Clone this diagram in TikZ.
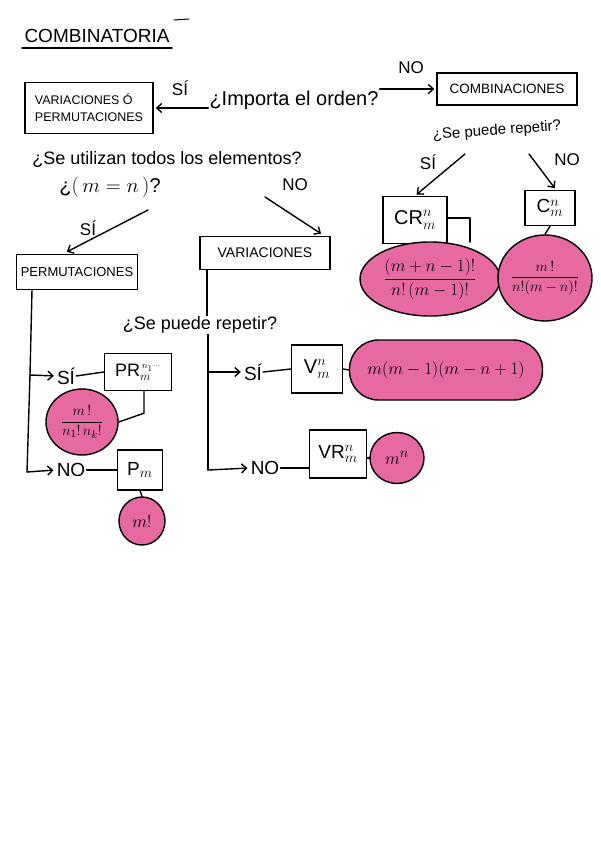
\documentclass[tikz,border=0pt]{standalone}
\usepackage{amsmath}
\usepackage{fontspec}
\setmainfont{Liberation Sans}
\usetikzlibrary{arrows.meta,shapes.geometric,calc}
\definecolor{pinkfill}{RGB}{230,105,162}
\tikzset{
  ln/.style={line width=1.4pt, black, line cap=round, line join=round},
  arr/.style={ln, -{Straight Barb[length=5pt,width=9pt]}, shorten >=2pt},
  boxn/.style={draw, line width=1.4pt, rectangle, inner sep=2pt, align=left},
  blob/.style={draw, line width=1.4pt, ellipse, fill=pinkfill, inner sep=0pt},
  hand/.style={inner sep=1pt},
}
\newcommand{\sym}[3]{\mathrm{#1}\mathop{}_{\raisebox{-1pt}{$\scriptstyle #2$}}^{\raisebox{1pt}{$\scriptstyle #3$}}}
\begin{document}
\begin{tikzpicture}[x=1pt,y=-1pt]
\useasboundingbox (0,0) rectangle (600,848);
\fill[white] (0,0) rectangle (600,848);

% title
\node[hand, font=\fontsize{19}{21}\selectfont] (title) at (97,36) {COMBINATORIA};
\draw[ln] (22,48) -- (172,48);
\draw[ln, line width=1pt] (174,20) -- (189,19);

% top row
\node[boxn, minimum width=128pt, minimum height=51pt, font=\fontsize{12.5}{17}\selectfont] (varperm) at (89,108) {VARIACIONES Ó\\PERMUTACIONES};
\node[hand, font=\fontsize{20}{22}\selectfont] (importa) at (294,100) {¿Importa el orden?};
\node[boxn, minimum width=140pt, minimum height=32pt, font=\fontsize{13.5}{16}\selectfont] (comb) at (507,89) {COMBINACIONES};
\draw[arr] (importa.west |- varperm.east) -- (varperm.east);
\draw[arr] (importa.east |- comb.west) -- (comb.west);
\node[hand, font=\fontsize{17}{19}\selectfont] (si1) at (180,88) {SÍ};
\node[hand, font=\fontsize{17}{19}\selectfont] (no1) at (411,68) {NO};

% combinaciones branch
\node[hand, font=\fontsize{15}{17}\selectfont, rotate=4] (rep1) at (497,131) {¿Se puede repetir?};
\node[hand, font=\fontsize{17}{19}\selectfont] (si3) at (428,162) {SÍ};
\node[hand, font=\fontsize{17}{19}\selectfont] (no3) at (567,160) {NO};
\node[boxn, minimum width=64pt, minimum height=47pt, align=center, font=\fontsize{20}{22}\selectfont] (cr) at (415,220) {$\mathrm{CR}_m^n$};
\draw[ln] (447,218) -- (470,218) -- (470,242);
\node[boxn, minimum width=50pt, minimum height=35pt, align=center, font=\fontsize{19}{21}\selectfont] (cb) at (550,208) {$\mathrm{C}_m^n$};
\coordinate (si3s) at (465,154);
\coordinate (no3s) at (529,154);
\draw[arr] (si3s) -- (cr.north);
\draw[arr] (no3s) -- ($(cb.north)+(6,0)$);
\node[blob, inner sep=-10pt, minimum width=140pt, minimum height=74pt, font=\fontsize{18}{20}\selectfont] (crf) at (430,279) {$\dfrac{(m+n-1)!}{n!\,(m-1)!}$};
\node[blob, inner sep=-12pt, minimum width=94pt, minimum height=86pt, font=\fontsize{15}{17}\selectfont] (cf) at (545,278) {$\dfrac{m\,!}{n!(m-n)!}$};
\draw[ln] (cb.south) -- (cf.north);

% utilizan
\node[hand, font=\fontsize{18}{20}\selectfont] (util) at (167,160) {¿Se utilizan todos los elementos?};
\node[hand, font=\fontsize{20}{22}\selectfont] (mn) at (110,187) {¿$(\,m=n\,)$?};
\node[boxn, minimum width=121pt, minimum height=35pt, font=\fontsize{13}{15}\selectfont, align=center] (perm) at (77,272) {PERMUTACIONES};
\node[boxn, minimum width=130pt, minimum height=33pt, font=\fontsize{14}{16}\selectfont, align=center] (var) at (265,253) {VARIACIONES};
\coordinate (sis) at (148,210);
\coordinate (nos) at (265,197);
\draw[arr] (sis) -- ($(perm.north)+(-12,-1)$);
\draw[arr] (nos) -- ($(var.north east)+(-8,-1)$);
\node[hand, font=\fontsize{17}{19}\selectfont] (si2l) at (88,228) {SÍ};
\node[hand, font=\fontsize{17}{19}\selectfont] (no2l) at (295,185) {NO};

% permutaciones branch
\coordinate (pt) at (32,290);
\coordinate (pm1) at (30,375);
\coordinate (pb) at (27,472);
\draw[ln] (pt) -- (pm1) -- (pb);
\node[hand, font=\fontsize{19}{21}\selectfont] (psi) at (66,376) {SÍ};
\node[hand, font=\fontsize{19}{21}\selectfont] (pno) at (71,470) {NO};
\draw[arr] (pm1) -- (psi.west);
\draw[arr] (pb) -- (pno.west);
\node[boxn, minimum width=67pt, minimum height=37pt, inner sep=1pt, align=center, font=\fontsize{18}{20}\selectfont] (pr) at (138,372) {$\mathrm{PR}_{m}^{\,\scriptscriptstyle n_1\cdots}$};
\draw[ln] (psi.east) -- (pr.west);
\node[blob, inner sep=-4pt, minimum width=72pt, minimum height=66pt, font=\fontsize{15}{17}\selectfont] (prf) at (82,422) {$\dfrac{m\,!}{n_1!\,n_k!}$};
\draw[ln] ($(pr.south)+(6,0)$) -- ++(0,22) -- (prf.east);
\node[boxn, minimum width=45pt, minimum height=40pt, align=center, font=\fontsize{19}{21}\selectfont] (pmb) at (140,470) {$\mathrm{P}_m$};
\draw[ln] (pno.east) -- (pmb.west);
\node[blob, minimum width=46pt, minimum height=48pt, font=\fontsize{17}{19}\selectfont] (pmf) at (142,521) {$m!$};
\draw[ln] (pmb.south) -- (pmf.north);

% variaciones branch
\node[hand, font=\fontsize{18}{20}\selectfont] (rep2) at (200,325) {¿Se puede repetir?};
\coordinate (vt) at (207,270);
\draw[ln] (vt) -- (rep2.north -| vt);
\coordinate (vm) at (208,372);
\coordinate (vb) at (208,470);
\draw[ln] (rep2.south -| vm) -- (vm) -- (vb);
\node[hand, font=\fontsize{19}{21}\selectfont] (vsi) at (253,372) {SÍ};
\node[hand, font=\fontsize{19}{21}\selectfont] (vno) at (265,468) {NO};
\draw[arr] (vm) -- (vsi.west);
\draw[arr] (vb) -- (vno.west);
\node[boxn, minimum width=51pt, minimum height=48pt, align=center, font=\fontsize{20}{22}\selectfont] (vbx) at (317,369) {$\mathrm{V}_m^n$};
\draw[ln] (vsi.east) -- (vbx.west);
\node[draw, line width=1.4pt, fill=pinkfill, rounded corners=29pt, minimum width=193pt, minimum height=60pt, font=\fontsize{19}{21}\selectfont] (vf) at (446,370) {$m(m-1)(m-n+1)$};
\draw[ln] (vbx.east) -- (vf.west);
\node[boxn, minimum width=57pt, minimum height=48pt, align=center, font=\fontsize{19}{21}\selectfont] (vr) at (338,454) {$\mathrm{VR}_m^n$};
\draw[ln] (vno.east) -- (vno.east -| vr.west);
\node[blob, minimum width=54pt, minimum height=51pt, font=\fontsize{19}{21}\selectfont] (vrf) at (397,458) {$m^n$};
\draw[ln] (vr.east |- vrf.west) -- (vrf.west);
\end{tikzpicture}
\end{document}
